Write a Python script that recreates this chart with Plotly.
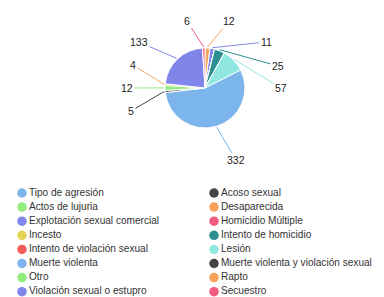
import math
import plotly.graph_objects as go

# ---- data ----
categories = ["Tipo de agresión", "Acoso sexual", "Actos de lujuria", "Desaparecida",
              "Explotación sexual comercial", "Homicidio Múltiple", "Incesto",
              "Intento de homicidio", "Intento de violación sexual", "Lesión",
              "Muerte violenta", "Muerte violenta y violación sexual", "Otro", "Rapto",
              "Violación sexual o estupro", "Secuestro"]
values = [0, 0, 0, 12, 11, 0, 0, 25, 0, 57, 332, 5, 12, 4, 133, 6]

# ---- style / layout ----
palette = ["#7cb5ec", "#434348", "#90ed7d", "#f7a35c", "#8085e9",
           "#f15c80", "#e4d354", "#2b908f", "#f45b5b", "#91e8e1"]
colors = [palette[i % len(palette)] for i in range(len(categories))]

W, H = 384, 297
cx, cy, r = 197, 80, 40
# data label placement (pixel positions of label centres), layout only
label_pos = {
    "Desaparecida": (221, 13), "Explotación sexual comercial": (258, 34),
    "Intento de homicidio": (270, 58), "Lesión": (273, 80),
    "Muerte violenta": (228, 152), "Muerte violenta y violación sexual": (123, 103),
    "Otro": (119, 80), "Rapto": (125, 57), "Violación sexual o estupro": (131, 34),
    "Secuestro": (179, 13),
}
FONT = "Liberation Sans, Arial, sans-serif"

fig = go.Figure()

fig.add_trace(go.Pie(
    labels=categories, values=values, sort=False, direction="clockwise", rotation=0,
    marker=dict(colors=colors, line=dict(color="white", width=1)),
    textinfo="none", hoverinfo="label+value", showlegend=False,
    domain=dict(x=[(cx - r) / W, (cx + r) / W], y=[1 - (cy + r) / H, 1 - (cy - r) / H]),
))

# data labels with connectors, anchored at slice mid-angles computed from the values
total = sum(values)
cum = 0
annotations = []
for cat, v, col in zip(categories, values, colors):
    if v > 0:
        mid = (cum + v / 2) / total * 2 * math.pi
        ex = cx + (r + 1) * math.sin(mid)
        ey = cy - (r + 1) * math.cos(mid)
        lx, ly = label_pos[cat]
        annotations.append(dict(
            x=ex, y=ey, xref="x", yref="y", ax=lx, ay=ly, axref="x", ayref="y",
            text=str(v), showarrow=True, arrowhead=0, arrowwidth=1, arrowcolor=col,
            standoff=0, startstandoff=0,
            font=dict(family=FONT, size=10.5, color="#222222"),
        ))
    cum += v

# legend built as a scatter on hidden pixel-scaled axes (two columns)
leg_x = [14 + 192 * (i % 2) for i in range(len(categories))]
leg_y = [185 + 14.1 * (i // 2) for i in range(len(categories))]
fig.add_trace(go.Scatter(
    x=leg_x, y=leg_y, mode="markers+text", text=categories, textposition="middle right",
    marker=dict(size=9.5, color=colors), textfont=dict(family=FONT, size=10.1, color="#333333"),
    hoverinfo="skip", showlegend=False, cliponaxis=False,
))

fig.update_layout(
    width=W, height=H, autosize=False,
    margin=dict(l=0, r=0, t=0, b=0),
    paper_bgcolor="white", plot_bgcolor="white",
    xaxis=dict(range=[0, W], visible=False, fixedrange=True),
    yaxis=dict(range=[H, 0], visible=False, fixedrange=True),
    annotations=annotations, showlegend=False,
)

fig.write_html("out.html")
